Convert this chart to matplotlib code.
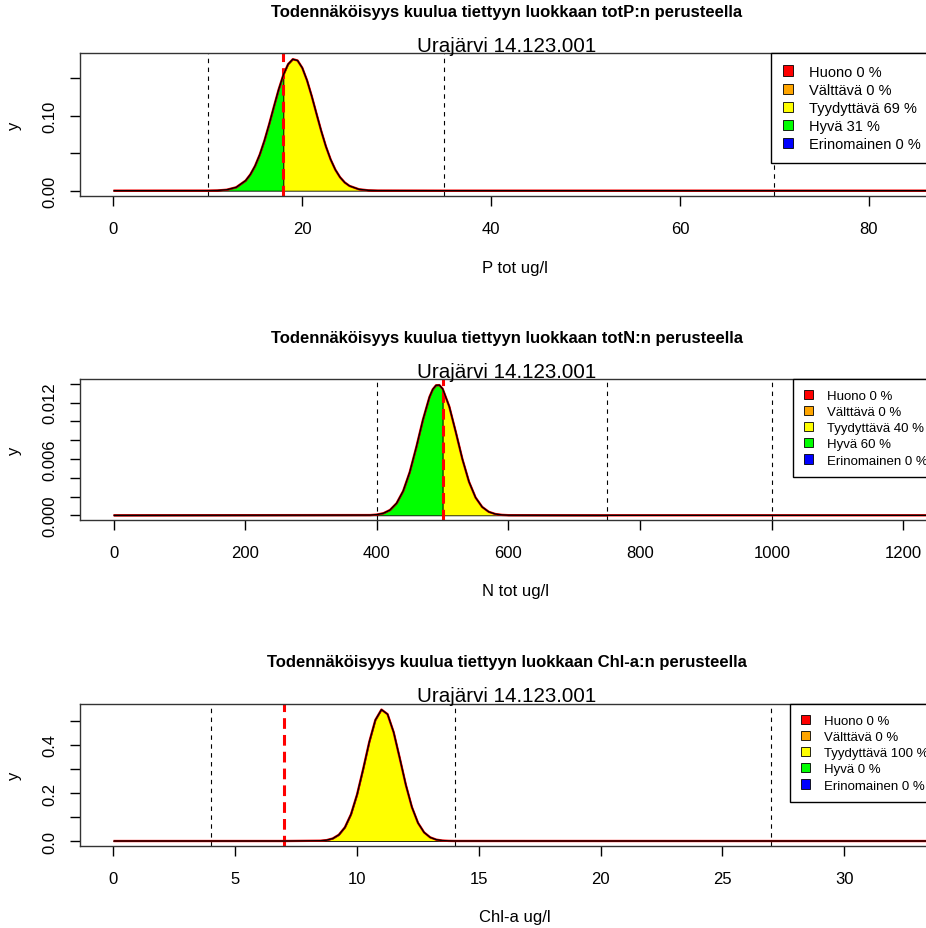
import matplotlib
matplotlib.use("Agg")
import matplotlib.pyplot as plt
import numpy as np
from matplotlib.patches import Patch

plt.rcParams['font.family'] = ['Liberation Sans', 'DejaVu Sans']

# class names / colours (worst -> best)
classes = ['Huono', 'Välttävä', 'Tyydyttävä', 'Hyvä', 'Erinomainen']
class_colors = ['#FF0000', '#FFA500', '#FFFF00', '#00FF00', '#0000FF']
site = 'Urajärvi 14.123.001'

# --- totP ---
p_x = [0, 10, 11, 12, 13, 14, 14.5, 15, 15.5, 16, 16.5, 17, 17.5, 18, 18.5, 19, 19.5,
       20, 20.5, 21, 21.5, 22, 22.5, 23, 23.5, 24, 24.5, 25, 26, 27, 28, 35, 70, 90]
p_y = [0, 0.00004, 0.00028, 0.00123, 0.00448, 0.0134, 0.0216, 0.0330, 0.0482, 0.0671,
       0.0889, 0.1122, 0.1349, 0.1545, 0.1687, 0.1753, 0.1736, 0.1638, 0.1472, 0.1261,
       0.1028, 0.0799, 0.0591, 0.0417, 0.0280, 0.0179, 0.0109, 0.00634, 0.00185,
       0.00044, 0.0001, 0, 0, 0]
p_bounds = [10, 18, 35, 70]      # Erinomainen | Hyvä | Tyydyttävä | Välttävä | Huono
p_pct = [0, 0, 69, 31, 0]

# --- totN ---
n_x = [0, 390, 400, 410, 420, 430, 440, 450, 460, 470, 480, 485, 490, 495, 500, 510,
       520, 530, 540, 550, 560, 570, 580, 590, 600, 750, 1000, 1300]
n_y = [0, 0.000023, 0.000075, 0.000219, 0.000562, 0.00128, 0.00258, 0.00460, 0.00726,
       0.01016, 0.01260, 0.01341, 0.01384, 0.01386, 0.01346, 0.01159, 0.00884, 0.00597,
       0.00357, 0.00189, 0.00089, 0.00037, 0.000136, 0.000044, 0.000012, 0, 0, 0]
n_bounds = [400, 500, 750, 1000]
n_pct = [0, 0, 40, 60, 0]

# --- Chl-a ---
c_x = [0, 4, 7, 8.5, 8.75, 9.0, 9.25, 9.5, 9.75, 10.0, 10.25, 10.5, 10.75, 11.0, 11.25,
       11.5, 11.75, 12.0, 12.25, 12.5, 12.75, 13.0, 13.25, 13.5, 13.75, 14.0, 27, 35]
c_y = [0, 0, 0, 0.0012, 0.0037, 0.0104, 0.0258, 0.0568, 0.1112, 0.1937, 0.2996, 0.4120,
       0.5034, 0.5467, 0.5277, 0.4527, 0.3451, 0.2339, 0.1409, 0.0754, 0.0359, 0.0152,
       0.0057, 0.0019, 0.0006, 0.00015, 0, 0]
c_bounds = [4, 7, 14, 27]
c_pct = [0, 0, 100, 0, 0]

panels = [
    dict(x=p_x, y=p_y, bounds=p_bounds, pct=p_pct, var='totP', xlab='P tot ug/l',
         top=54, bot=197, xlim=(-3.54, 88.6), ylim=(-0.0071, 0.1836),
         xt=np.arange(0, 81, 20), yt=[0, 0.05, 0.10, 0.15], ylab=['0.00', '', '0.10', ''],
         legfs=10.5, legx=771, legsp=0.28),
    dict(x=n_x, y=n_y, bounds=n_bounds, pct=n_pct, var='totN', xlab='N tot ug/l',
         top=380, bot=521, xlim=(-50.9, 1270.7), ylim=(-0.0005, 0.01451),
         xt=np.arange(0, 1201, 200), yt=np.arange(0, 0.0141, 0.002),
         ylab=['0.000', '', '', '0.006', '', '', '0.012', ''], legfs=9.5, legx=793,
         legsp=0.3),
    dict(x=c_x, y=c_y, bounds=c_bounds, pct=c_pct, var='Chl-a', xlab='Chl-a ug/l',
         top=705, bot=847, xlim=(-1.375, 34.34), ylim=(-0.0207, 0.570),
         xt=np.arange(0, 31, 5), yt=np.arange(0, 0.51, 0.1),
         ylab=['0.0', '', '0.2', '', '0.4', ''], legfs=9.5, legx=790, legsp=0.3),
]

W, H = 926, 929
fig = plt.figure(figsize=(W / 100, H / 100), dpi=100)
left, right = 80, 950

for p in panels:
    ax = fig.add_axes([left / W, 1 - p['bot'] / H, (right - left) / W, (p['bot'] - p['top']) / H])
    x = np.array(p['x'], dtype=float)
    y = np.array(p['y'], dtype=float)
    b = p['bounds']
    edges = [-np.inf] + b + [np.inf]
    # fill colours from left (best) to right (worst)
    fill_cols = class_colors[::-1]
    for i in range(5):
        m = (x >= edges[i]) & (x <= edges[i + 1])
        if m.sum() > 1:
            ax.fill_between(x[m], y[m], 0, color=fill_cols[i], edgecolor='black', lw=0.6)
    for v in [b[0], b[2], b[3]]:
        ax.axvline(v, color='black', ls=(0, (4, 4)), lw=0.8)
    ax.axvline(b[1], color='red', ls=(0, (3.5, 2)), lw=2.2)
    ax.plot(x, y, color='red', lw=1.7, solid_capstyle='butt')
    ax.plot(x, y, color='black', lw=1.0, solid_capstyle='butt')

    ax.set_xlim(*p['xlim'])
    ax.set_ylim(*p['ylim'])
    ax.set_xticks(p['xt'])
    ax.set_xticklabels([str(int(t)) for t in p['xt']])
    ax.set_yticks(p['yt'])
    ax.set_yticklabels(p['ylab'], rotation=90, va='center')
    ax.tick_params(direction='out', length=7, width=1, labelsize=12)
    ax.tick_params(axis='x', pad=11)
    ax.tick_params(axis='y', pad=9)
    for s in ax.spines.values():
        s.set_linewidth(1)
        s.set_color('#333333')

    handles = [Patch(facecolor=c, edgecolor='black', lw=0.6) for c in class_colors]
    labels = [f'{n} {v} %' for n, v in zip(classes, p['pct'])]
    leg = ax.legend(handles, labels, loc='upper left',
                    bbox_to_anchor=((p['legx'] - left) / (right - left), 1),
                    borderaxespad=0, fancybox=False, framealpha=1, edgecolor='black',
                    fontsize=p['legfs'], handlelength=0.7, handleheight=0.7,
                    handletextpad=1.1, labelspacing=p['legsp'], borderpad=0.8)
    leg.get_frame().set_linewidth(1)

    fig.text(507 / W, 1 - (p['top'] - 42) / H,
             f'Todennäköisyys kuulua tiettyyn luokkaan {p["var"]}:n perusteella',
             ha='center', va='center', fontsize=12, fontweight='bold')
    fig.text(507 / W, 1 - (p['top'] - 8) / H, site, ha='center', va='center', fontsize=14.8)
    fig.text(515 / W, 1 - (p['bot'] + 71) / H, p['xlab'], ha='center', va='center', fontsize=12)
    fig.text(15 / W, 1 - (p['top'] + p['bot']) / 2 / H, 'y', ha='center', va='center',
             rotation=90, fontsize=12)

fig.savefig('out.png', dpi=100)
